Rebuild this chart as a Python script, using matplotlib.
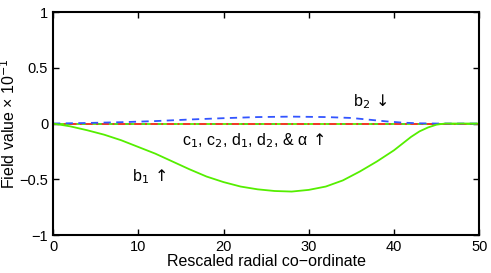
import matplotlib.pyplot as plt
import numpy as np

plt.rcParams['font.family'] = ['Liberation Sans', 'DejaVu Sans']

# values
r1 = [0, 2, 4, 6, 8, 10, 12, 14, 16, 18, 20, 22, 24, 26, 28, 30, 32, 34, 36, 38, 40, 41, 42, 43, 44, 45, 46, 50]
b1 = [0, -0.025, -0.06, -0.10, -0.15, -0.21, -0.27, -0.34, -0.41, -0.475, -0.525, -0.565, -0.59, -0.605,
      -0.61, -0.595, -0.565, -0.51, -0.43, -0.34, -0.24, -0.18, -0.12, -0.07, -0.035, -0.01, 0, 0]
r2 = [0, 4, 8, 12, 16, 20, 24, 28, 32, 35, 37, 39, 41, 43, 45, 50]
b2 = [0, 0.005, 0.012, 0.022, 0.036, 0.048, 0.058, 0.062, 0.058, 0.05, 0.035, 0.02, 0.008, 0.002, 0, 0]
r0 = [0, 50]
zero = [0, 0]   # c1, c2, d1, d2, alpha

fig = plt.figure(figsize=(4.91, 2.73), dpi=100)
ax = fig.add_axes([0.108, 0.139, 0.868, 0.817])

ax.plot(r0, zero, color='#3355ff', lw=1.3, ls=(0, (4, 4)))
ax.plot(r0, zero, color='#55ee00', lw=1.3)
ax.plot(r0, zero, color='#ff2a2a', lw=1.3, ls=(0, (4, 2, 1, 2)))
ax.plot(r2, b2, color='#3355ff', lw=1.3, ls='--', dashes=(4, 3))
ax.plot(r1, b1, color='#55ee00', lw=1.3)

ax.set_xlim(0, 50)
ax.set_ylim(-1, 1)
ax.set_xticks([0, 10, 20, 30, 40, 50])
ax.set_yticks([-1, -0.5, 0, 0.5, 1])
ax.set_yticklabels(['\u22121', '\u22120.5', '0', '0.5', '1'])
ax.tick_params(direction='in', top=True, right=True, labelsize=10.5, length=4, width=1)
for s in ax.spines.values():
    s.set_linewidth(1.5)

ax.set_xlabel('Rescaled radial co\u2212ordinate', fontsize=11.5, labelpad=0)
ax.set_ylabel('Field value \u00d7 10$^{\u22121}$', fontsize=11.5, labelpad=1)

ax.text(9.3, -0.48, 'b$_1\\,\\uparrow$', fontsize=11.5, va='center')
ax.text(35.2, 0.2, 'b$_2\\,\\downarrow$', fontsize=11.5, va='center')
ax.text(15.1, -0.15, 'c$_1$, c$_2$, d$_1$, d$_2$, & \u03b1$\\,\\uparrow$', fontsize=11.5, va='center')

fig.savefig('out.png', dpi=100)
